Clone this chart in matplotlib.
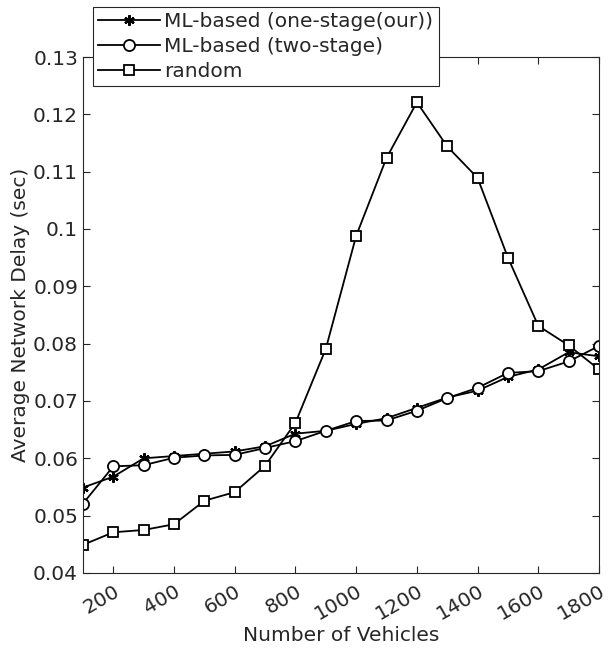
import matplotlib
matplotlib.use('Agg')
import matplotlib.pyplot as plt

# Number of vehicles on the x axis
vehicles = [100, 200, 300, 400, 500, 600, 700, 800, 900,
            1000, 1100, 1200, 1300, 1400, 1500, 1600, 1700, 1800]

# Average network delay (sec)
one_stage = [0.0549, 0.0568, 0.0600, 0.0604, 0.0608, 0.0612, 0.0621, 0.0643, 0.0648,
             0.0660, 0.0670, 0.0688, 0.0706, 0.0718, 0.0742, 0.0755, 0.0785, 0.0778]
two_stage = [0.0521, 0.0586, 0.0588, 0.0601, 0.0605, 0.0606, 0.0618, 0.0630, 0.0648,
             0.0665, 0.0666, 0.0683, 0.0705, 0.0723, 0.0749, 0.0752, 0.0769, 0.0796]
random_sel = [0.0449, 0.0471, 0.0475, 0.0485, 0.0526, 0.0541, 0.0587, 0.0662, 0.0791,
              0.0988, 0.1124, 0.1221, 0.1144, 0.1089, 0.0950, 0.0831, 0.0797, 0.0755]

labels = ['ML-based (one-stage(our))', 'ML-based (two-stage)', 'random']
x_ticks = [200, 400, 600, 800, 1000, 1200, 1400, 1600, 1800]
y_ticks = [0.04, 0.05, 0.06, 0.07, 0.08, 0.09, 0.1, 0.11, 0.12, 0.13]
y_ticklabels = ['0.04', '0.05', '0.06', '0.07', '0.08', '0.09', '0.1', '0.11', '0.12', '0.13']

grey = '#262626'
plt.rcParams['font.family'] = 'DejaVu Sans'

fig = plt.figure(figsize=(6.1, 6.5), dpi=100)
ax = fig.add_axes([0.136, 0.1185, 0.846, 0.7938])

ax.plot(vehicles, one_stage, color='black', lw=1.3, marker=(6, 2, 0), markersize=7.5,
        markeredgewidth=1.6, label=labels[0])
ax.plot(vehicles, two_stage, color='black', lw=1.3, marker='o', markersize=8,
        markerfacecolor='white', markeredgewidth=1.3, label=labels[1])
ax.plot(vehicles, random_sel, color='black', lw=1.3, marker='s', markersize=6.5,
        markerfacecolor='white', markeredgewidth=1.3, label=labels[2])

ax.set_xlim(100, 1800)
ax.set_ylim(0.04, 0.13)
ax.set_xticks(x_ticks)
ax.set_xticklabels([str(t) for t in x_ticks], rotation=30, ha='right', va='top',
                   rotation_mode='anchor')
ax.set_yticks(y_ticks)
ax.set_yticklabels(y_ticklabels)

ax.tick_params(direction='in', top=True, right=True, length=5, width=0.8,
               labelsize=14.5, colors=grey, labelcolor=grey)
ax.tick_params(axis='x', pad=6)
for s in ax.spines.values():
    s.set_color(grey)
    s.set_linewidth(0.8)

ax.set_xlabel('Number of Vehicles', fontsize=14.5, color=grey, labelpad=2)
ax.set_ylabel('Average Network Delay (sec)', fontsize=14.5, color=grey, labelpad=2)

leg = ax.legend(loc='upper left', bbox_to_anchor=(93 / 610, 1 - 7 / 650),
                bbox_transform=fig.transFigure, borderaxespad=0, fontsize=14.5,
                handlelength=3.1, labelspacing=0.3, handletextpad=0.2,
                borderpad=0.25, fancybox=False, framealpha=1)
leg.get_frame().set_edgecolor(grey)
leg.get_frame().set_linewidth(0.8)
for t in leg.get_texts():
    t.set_color(grey)

fig.savefig('out.png', dpi=100)
